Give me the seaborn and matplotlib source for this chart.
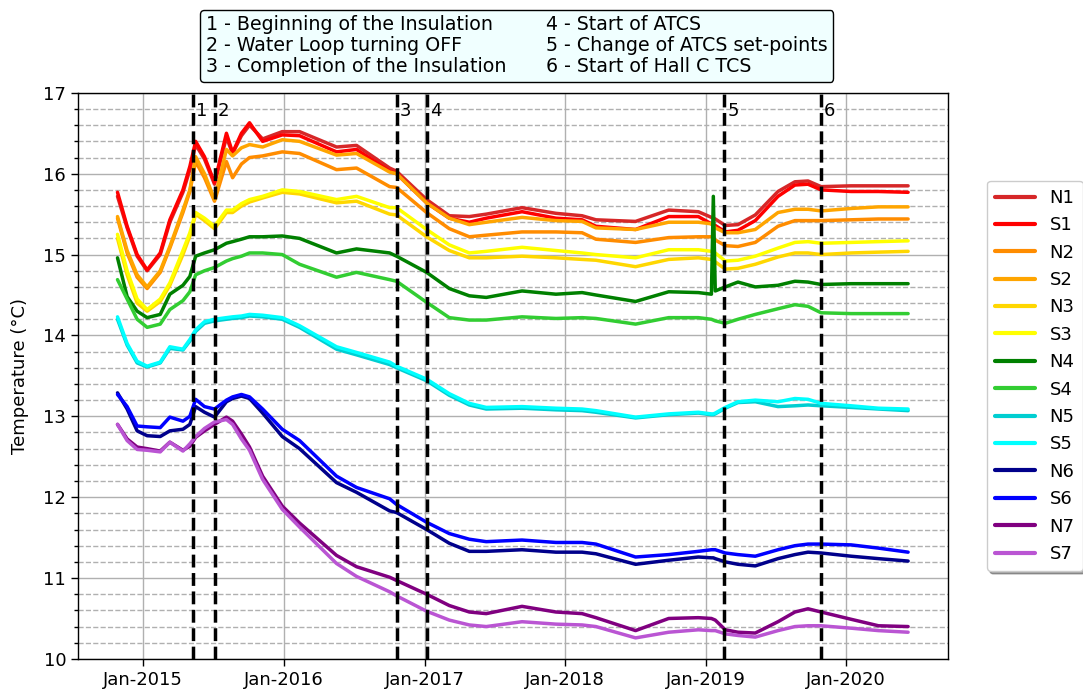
import matplotlib
matplotlib.use("Agg")
import matplotlib.pyplot as plt
import matplotlib.dates as mdates
from matplotlib.ticker import MultipleLocator
from matplotlib.lines import Line2D
import seaborn as sns
import pandas as pd

# ---------------- data ----------------
dates = ["2014-10-26", "2014-11-20", "2014-12-16", "2015-01-11", "2015-02-14", "2015-03-11",
         "2015-04-14", "2015-05-02", "2015-05-17", "2015-06-09", "2015-07-05", "2015-08-05",
         "2015-08-21", "2015-09-13", "2015-10-04", "2015-11-07", "2015-12-28", "2016-02-11",
         "2016-05-17", "2016-07-08", "2016-10-02", "2016-10-20", "2017-01-06", "2017-03-06",
         "2017-04-27", "2017-06-10", "2017-09-11", "2017-12-08", "2018-02-14", "2018-03-22",
         "2018-07-03", "2018-09-27", "2018-12-13", "2019-01-16", "2019-01-21", "2019-01-26",
         "2019-02-21", "2019-03-26", "2019-05-10", "2019-07-08", "2019-08-21", "2019-09-24",
         "2019-10-28", "2020-01-14", "2020-03-25", "2020-06-10"]

N1 = [15.72, 15.33, 14.98, 14.80, 15.00, 15.40, 15.77, 16.05, 16.36, 16.18, 15.87, 16.45,
      16.25, 16.47, 16.60, 16.43, 16.52, 16.52, 16.33, 16.35, 16.07, 16.03, 15.68, 15.48,
      15.47, 15.50, 15.58, 15.51, 15.48, 15.43, 15.41, 15.55, 15.53, 15.46, 15.45, 15.44,
      15.36, 15.37, 15.49, 15.78, 15.90, 15.91, 15.84, 15.85, 15.85, 15.85]
S1 = [15.77, 15.35, 15.00, 14.81, 15.02, 15.43, 15.80, 16.09, 16.40, 16.21, 15.89, 16.50,
      16.26, 16.50, 16.63, 16.40, 16.48, 16.47, 16.27, 16.30, 16.03, 16.00, 15.64, 15.45,
      15.40, 15.45, 15.53, 15.45, 15.43, 15.35, 15.31, 15.47, 15.47, 15.38, 15.37, 15.36,
      15.28, 15.30, 15.42, 15.72, 15.86, 15.87, 15.80, 15.78, 15.78, 15.77]
N2 = [15.45, 15.02, 14.72, 14.58, 14.78, 15.08, 15.52, 15.78, 16.15, 15.95, 15.66, 16.15,
      15.95, 16.12, 16.20, 16.22, 16.27, 16.25, 16.05, 16.07, 15.84, 15.83, 15.52, 15.32,
      15.22, 15.24, 15.28, 15.28, 15.27, 15.19, 15.15, 15.21, 15.22, 15.22, 15.20, 15.18,
      15.11, 15.10, 15.15, 15.35, 15.42, 15.42, 15.42, 15.43, 15.44, 15.44]
S2 = [15.47, 15.05, 14.75, 14.60, 14.80, 15.10, 15.55, 15.80, 16.21, 16.00, 15.68, 16.30,
      16.22, 16.32, 16.36, 16.33, 16.42, 16.40, 16.23, 16.25, 16.02, 16.00, 15.64, 15.45,
      15.37, 15.40, 15.46, 15.42, 15.41, 15.33, 15.31, 15.40, 15.40, 15.38, 15.35, 15.33,
      15.27, 15.27, 15.31, 15.52, 15.56, 15.56, 15.54, 15.57, 15.59, 15.59]
N3 = [15.20, 14.75, 14.40, 14.30, 14.42, 14.62, 15.00, 15.23, 15.50, 15.42, 15.32, 15.52,
      15.52, 15.60, 15.65, 15.70, 15.77, 15.75, 15.64, 15.66, 15.50, 15.49, 15.22, 15.05,
      14.96, 14.96, 14.98, 14.96, 14.94, 14.93, 14.85, 14.94, 14.96, 14.94, 14.93, 14.91,
      14.82, 14.83, 14.88, 14.97, 15.02, 15.02, 15.00, 15.02, 15.03, 15.04]
S3 = [15.25, 14.80, 14.45, 14.32, 14.45, 14.65, 15.05, 15.27, 15.52, 15.45, 15.35, 15.55,
      15.55, 15.63, 15.68, 15.72, 15.80, 15.78, 15.68, 15.72, 15.58, 15.58, 15.31, 15.12,
      15.02, 15.04, 15.09, 15.05, 15.02, 15.00, 14.96, 15.06, 15.06, 15.04, 15.03, 15.02,
      14.92, 14.93, 14.98, 15.08, 15.15, 15.16, 15.14, 15.15, 15.16, 15.17]
N4 = [14.96, 14.48, 14.30, 14.22, 14.26, 14.51, 14.62, 14.73, 14.98, 15.02, 15.06, 15.14,
      15.16, 15.19, 15.22, 15.22, 15.23, 15.20, 15.02, 15.07, 15.02, 14.98, 14.78, 14.58,
      14.49, 14.47, 14.55, 14.51, 14.53, 14.50, 14.42, 14.54, 14.53, 14.51, 15.72, 14.55,
      14.60, 14.66, 14.60, 14.62, 14.67, 14.66, 14.63, 14.64, 14.64, 14.64]
S4 = [14.69, 14.45, 14.20, 14.10, 14.14, 14.32, 14.43, 14.54, 14.75, 14.80, 14.84, 14.92,
      14.95, 14.98, 15.02, 15.02, 15.00, 14.88, 14.72, 14.78, 14.69, 14.67, 14.41, 14.22,
      14.19, 14.19, 14.23, 14.21, 14.22, 14.21, 14.14, 14.22, 14.22, 14.20, 14.19, 14.18,
      14.15, 14.20, 14.26, 14.33, 14.38, 14.36, 14.28, 14.27, 14.27, 14.27]
N5 = [14.20, 13.88, 13.66, 13.61, 13.66, 13.84, 13.82, 13.93, 14.05, 14.15, 14.18, 14.20,
      14.21, 14.22, 14.24, 14.23, 14.20, 14.10, 13.83, 13.76, 13.64, 13.60, 13.44, 13.26,
      13.14, 13.09, 13.10, 13.08, 13.07, 13.05, 12.98, 13.02, 13.04, 13.02, 13.02, 13.03,
      13.10, 13.17, 13.18, 13.12, 13.13, 13.14, 13.13, 13.11, 13.09, 13.07]
S5 = [14.23, 13.90, 13.68, 13.62, 13.67, 13.86, 13.83, 13.95, 14.07, 14.17, 14.20, 14.22,
      14.23, 14.24, 14.26, 14.25, 14.22, 14.12, 13.86, 13.79, 13.67, 13.62, 13.46, 13.28,
      13.16, 13.11, 13.12, 13.10, 13.09, 13.07, 12.99, 13.03, 13.05, 13.03, 13.03, 13.04,
      13.11, 13.18, 13.20, 13.18, 13.22, 13.21, 13.16, 13.13, 13.10, 13.09]
N6 = [13.29, 13.09, 12.82, 12.76, 12.75, 12.82, 12.84, 12.90, 13.12, 13.05, 12.99, 13.18,
      13.22, 13.25, 13.22, 13.04, 12.75, 12.60, 12.18, 12.06, 11.83, 11.81, 11.60, 11.43,
      11.33, 11.33, 11.35, 11.32, 11.32, 11.30, 11.17, 11.22, 11.26, 11.25, 11.25, 11.24,
      11.20, 11.17, 11.15, 11.24, 11.29, 11.32, 11.31, 11.27, 11.24, 11.21]
S6 = [13.27, 13.12, 12.88, 12.87, 12.86, 12.99, 12.94, 13.00, 13.21, 13.12, 13.09, 13.20,
      13.24, 13.27, 13.24, 13.09, 12.84, 12.70, 12.26, 12.12, 11.98, 11.91, 11.69, 11.55,
      11.48, 11.45, 11.47, 11.44, 11.44, 11.42, 11.26, 11.29, 11.33, 11.35, 11.35, 11.35,
      11.31, 11.29, 11.27, 11.35, 11.40, 11.42, 11.42, 11.41, 11.37, 11.32]
N7 = [12.90, 12.72, 12.62, 12.60, 12.57, 12.68, 12.58, 12.63, 12.74, 12.82, 12.90, 12.99,
      12.94, 12.78, 12.62, 12.26, 11.89, 11.68, 11.28, 11.14, 11.01, 10.97, 10.80, 10.66,
      10.58, 10.56, 10.65, 10.58, 10.56, 10.51, 10.35, 10.50, 10.51, 10.50, 10.49, 10.48,
      10.36, 10.33, 10.32, 10.46, 10.58, 10.62, 10.58, 10.49, 10.41, 10.40]
S7 = [12.90, 12.70, 12.59, 12.58, 12.56, 12.68, 12.57, 12.66, 12.75, 12.85, 12.93, 12.96,
      12.90, 12.72, 12.58, 12.22, 11.85, 11.63, 11.18, 11.02, 10.83, 10.78, 10.59, 10.48,
      10.42, 10.40, 10.46, 10.43, 10.42, 10.40, 10.26, 10.33, 10.36, 10.35, 10.35, 10.35,
      10.31, 10.29, 10.27, 10.35, 10.40, 10.41, 10.41, 10.38, 10.35, 10.33]

series_names = ["N1", "S1", "N2", "S2", "N3", "S3", "N4", "S4", "N5", "S5", "N6", "S6", "N7", "S7"]
series_values = [N1, S1, N2, S2, N3, S3, N4, S4, N5, S5, N6, S6, N7, S7]
series_colors = ["#d62728", "#ff0000", "#ff8c00", "#ffa500", "#ffd700", "#ffff00",
                 "#008000", "#32cd32", "#00ced1", "#00ffff", "#00008b", "#0000ff",
                 "#800080", "#ba55d3"]

event_dates = ["2015-05-10", "2015-07-05", "2016-10-20", "2017-01-08", "2019-02-19", "2019-10-28"]
event_labels = ["1", "2", "3", "4", "5", "6"]
event_texts = ["1 - Beginning of the Insulation", "2 - Water Loop turning OFF",
               "3 - Completion of the Insulation", "4 - Start of ATCS",
               "5 - Change of ATCS set-points", "6 - Start of Hall C TCS"]

# ---------------- frame ----------------
rows = []
for name, vals in zip(series_names, series_values):
    for d, v in zip(dates, vals):
        rows.append((pd.Timestamp(d), v, name))
df = pd.DataFrame(rows, columns=["date", "temp", "sensor"])

sns.set_style("ticks")
plt.rcParams["font.family"] = ["DejaVu Sans"]
plt.rcParams["text.color"] = "black"
plt.rcParams["axes.labelcolor"] = "black"
plt.rcParams["xtick.color"] = "black"
plt.rcParams["ytick.color"] = "black"

fig = plt.figure(figsize=(10.83, 6.98), dpi=100)
ax = fig.add_axes([0.072, 0.056, 0.803, 0.811])

sns.lineplot(data=df, x="date", y="temp", hue="sensor", hue_order=series_names,
             palette=dict(zip(series_names, series_colors)), linewidth=2.5,
             ax=ax, legend=True)

ax.set_ylim(10, 17)
ax.yaxis.set_major_locator(MultipleLocator(1))
ax.yaxis.set_minor_locator(MultipleLocator(0.2))
ax.xaxis.set_major_locator(mdates.YearLocator())
ax.xaxis.set_major_formatter(mdates.DateFormatter("%b-%Y"))
ax.grid(which="major", color="#b0b0b0", linewidth=1.0, linestyle="-")
ax.grid(which="minor", axis="y", color="#b0b0b0", linewidth=1.0, linestyle="--")
ax.set_axisbelow(True)
for s in ax.spines.values():
    s.set_visible(True)
    s.set_color("black")
    s.set_linewidth(1.0)
ax.tick_params(axis="both", which="major", labelsize=13, length=5, width=1, color="black")
ax.tick_params(axis="y", which="minor", length=2.7, width=1, color="black")
ax.set_xlabel("")
ax.set_ylabel("Temperature (°C)", fontsize=13, labelpad=10)

for d, lab in zip(event_dates, event_labels):
    t = pd.Timestamp(d)
    ax.axvline(t, color="black", linestyle="--", linewidth=2.5, zorder=5)
    ax.annotate(lab, xy=(mdates.date2num(t), 16.78), xytext=(2, 0), textcoords="offset points",
                fontsize=13, va="center", ha="left")

handles, labels = ax.get_legend_handles_labels()
leg = ax.legend(handles, labels, loc="center left", bbox_to_anchor=(1.035, 0.5),
                fontsize=13, shadow=True, frameon=True, handlelength=2.2,
                handletextpad=0.8, labelspacing=0.52, borderpad=0.45)
for h in leg.get_lines():
    h.set_linewidth(3)

ev_handles = [Line2D([], [], color="none") for _ in event_texts]
fig.legend(ev_handles, event_texts, loc="upper center", bbox_to_anchor=(0.477, 0.986),
           ncol=2, handlelength=0, handletextpad=0, fontsize=13.7, frameon=True,
           facecolor="#f0ffff", edgecolor="black", framealpha=1, fancybox=True,
           labelspacing=0.1, columnspacing=2.1, borderpad=0.3, borderaxespad=0)

fig.savefig("out.png", dpi=100)
